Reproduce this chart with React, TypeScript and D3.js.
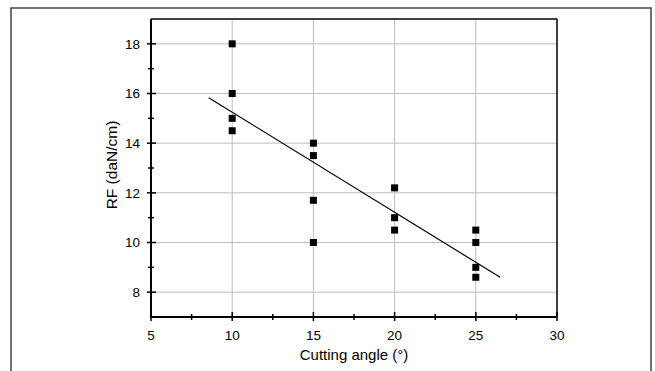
import React from "react";
import * as d3 from "d3";

const angles = [10, 10, 10, 10, 15, 15, 15, 15, 20, 20, 20, 25, 25, 25, 25];
const rfValues = [18, 16, 15, 14.5, 14, 13.5, 11.7, 10, 12.2, 11, 10.5, 10.5, 10, 9, 8.6];
const fitX = [8.55, 26.5];
const fitY = [15.83, 8.6];
const xTicks = [5, 10, 15, 20, 25, 30];
const xMinor = [7.5, 12.5, 17.5, 22.5, 27.5];
const yTicks = [8, 10, 12, 14, 16, 18];
const yMinor = [9, 11, 13, 15, 17];
const xTitle = "Cutting angle (°)";
const yTitle = "RF (daN/cm)";

export default function App() {
  const W = 655, H = 371;
  const L = 151, R = 557, T = 19, B = 317;
  const x = d3.scaleLinear().domain([5, 30]).range([L, R]);
  const y = d3.scaleLinear().domain([7, 19]).range([B, T]);
  const font = "'Liberation Sans', Arial, sans-serif";
  const line = d3.line<number>().x((d, i) => x(fitX[i])).y((d) => y(d));
  return (
    <svg width={W} height={H} style={{ position: "absolute", left: 0, top: 0, background: "#fff" }} fontFamily={font}>
      <rect x={11} y={8} width={640} height={400} fill="none" stroke="#444" strokeWidth={1.5} />
      {/* grid */}
      {xTicks.slice(1, -1).map((t) => (
        <line key={"gx" + t} x1={x(t)} x2={x(t)} y1={T} y2={B} stroke="#bdbdbd" strokeWidth={1} />
      ))}
      {yTicks.map((t) => (
        <line key={"gy" + t} x1={L} x2={R} y1={y(t)} y2={y(t)} stroke="#bdbdbd" strokeWidth={1} />
      ))}
      {/* frame */}
      <line x1={L} x2={R} y1={T} y2={T} stroke="#000" strokeWidth={1.5} />
      <line x1={R} x2={R} y1={T} y2={B} stroke="#000" strokeWidth={1.5} />
      <line x1={L} x2={L} y1={T} y2={B + 1} stroke="#000" strokeWidth={2} />
      <line x1={L - 1} x2={R} y1={B} y2={B} stroke="#000" strokeWidth={2} />
      {/* ticks */}
      {xTicks.map((t) => (
        <line key={"tx" + t} x1={x(t)} x2={x(t)} y1={B - 5} y2={B + 4} stroke="#000" strokeWidth={1.5} />
      ))}
      {xMinor.map((t) => (
        <line key={"mx" + t} x1={x(t)} x2={x(t)} y1={B - 3} y2={B + 3} stroke="#000" strokeWidth={1.5} />
      ))}
      {yTicks.map((t) => (
        <line key={"ty" + t} x1={L - 4} x2={L + 5} y1={y(t)} y2={y(t)} stroke="#000" strokeWidth={1.5} />
      ))}
      {yMinor.map((t) => (
        <line key={"my" + t} x1={L - 3} x2={L + 3} y1={y(t)} y2={y(t)} stroke="#000" strokeWidth={1.5} />
      ))}
      {/* labels */}
      {xTicks.map((t) => (
        <text key={"lx" + t} x={x(t)} y={340} textAnchor="middle" fontSize={13.5} fill="#000">{t}</text>
      ))}
      {yTicks.map((t) => (
        <text key={"ly" + t} x={140} y={y(t)} dy="0.36em" textAnchor="end" fontSize={13.5} fill="#000">{t}</text>
      ))}
      <text x={(L + R) / 2} y={360} textAnchor="middle" fontSize={15} fill="#000">{xTitle}</text>
      <text transform={`translate(117,165) rotate(-90)`} textAnchor="middle" fontSize={15.5} fill="#000">{yTitle}</text>
      {/* fit line */}
      <path d={line(fitY) || ""} fill="none" stroke="#000" strokeWidth={1.2} />
      {/* points */}
      {angles.map((a, i) => (
        <rect key={"p" + i} x={x(a) - 3.5} y={y(rfValues[i]) - 3.5} width={7} height={7} fill="#000" />
      ))}
    </svg>
  );
}
